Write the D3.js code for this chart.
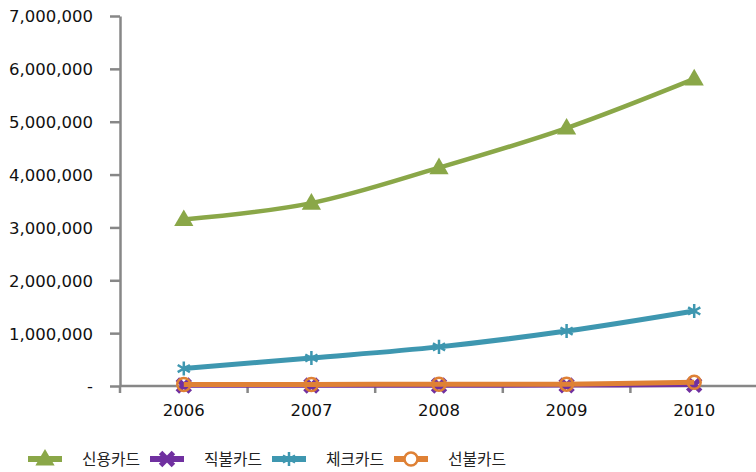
<!DOCTYPE html>
<html>
<head>
<meta charset="utf-8">
<script src="https://cdn.jsdelivr.net/npm/d3@7"></script>
<style>
  body { margin: 0; background: #fff; }
  .axis text { font-family: "DejaVu Sans", sans-serif; font-size: 16.5px; fill: #111; }
  .legend text { font-family: "Noto Sans CJK KR", sans-serif; font-size: 15.8px; fill: #222; }
</style>
</head>
<body>
<div id="chart"></div>
<script>
const years = ['2006', '2007', '2008', '2009', '2010'];
const seriesNames = ['신용카드', '직불카드', '체크카드', '선불카드'];
const credit  = [3150000, 3460000, 4130000, 4880000, 5810000];
const debit   = [8000, 9000, 10000, 12000, 22000];
const check   = [330000, 530000, 740000, 1040000, 1420000];
const prepaid = [30000, 30000, 32000, 35000, 70000];
const yTicks = [0, 1000000, 2000000, 3000000, 4000000, 5000000, 6000000, 7000000];

const svgWidth = 756;
const svgHeight = 472;

// plot area edges
const plot = { left: 120, right: 758, top: 16, bottom: 386 };

const svg = d3.select('#chart').append('svg')
  .attr('width', svgWidth)
  .attr('height', svgHeight);

const x = d3.scaleBand().domain(years).range([plot.left, plot.right]).padding(0);
const y = d3.scaleLinear().domain([0, 7000000]).range([plot.bottom, plot.top]);
const cx = d => x(d) + x.bandwidth() / 2;

//y axis
const yAxis = d3.axisLeft(y)
  .tickValues(yTicks)
  .tickSize(10)
  .tickSizeOuter(0)
  .tickPadding(17)
  .tickFormat(d => d === 0 ? '-' : d3.format(',')(d));
const gy = svg.append('g').attr('class', 'axis')
  .attr('transform', `translate(${plot.left},0)`)
  .call(yAxis);
gy.selectAll('line, path').attr('stroke', '#878787').attr('stroke-width', 2.5);
gy.selectAll('text').attr('dy', '0.36em');

//x axis: labels centred in bands, ticks on band edges
const xAxis = d3.axisBottom(x).tickSize(0).tickPadding(18);
const gx = svg.append('g').attr('class', 'axis')
  .attr('transform', `translate(0,${plot.bottom})`)
  .call(xAxis);
gx.select('.domain').remove();
const edges = years.map(d => x(d)).concat([x(years[years.length - 1]) + x.bandwidth()]);
gx.selectAll('.edge').data(edges).enter().append('line')
  .attr('class', 'edge')
  .attr('x1', d => d).attr('x2', d => d)
  .attr('y1', 0).attr('y2', 7)
  .attr('stroke', '#878787').attr('stroke-width', 2.5);
gx.append('line')
  .attr('x1', plot.left).attr('x2', svgWidth)
  .attr('y1', 0).attr('y2', 0)
  .attr('stroke', '#878787').attr('stroke-width', 2.5);

const line = d3.line()
  .x((d, i) => cx(years[i]))
  .y(d => y(d))
  .curve(d3.curveCatmullRom.alpha(0.5));

const colors = ['#8aa748', '#7030a0', '#3e97b0', '#df8135'];
const widths = [4.5, 4.5, 5, 5];
const allData = [credit, debit, check, prepaid];

// marker drawing helpers
function drawMarker(g, kind, color, px, py, fillBg) {
  if (kind === 0) {
    g.append('path')
      .attr('d', d3.symbol(d3.symbolTriangle, 160)())
      .attr('transform', `translate(${px},${py + 1})`)
      .attr('fill', color);
  } else if (kind === 1) {
    g.append('path')
      .attr('d', d3.symbol(d3.symbolX, 110)())
      .attr('transform', `translate(${px},${py})`)
      .attr('fill', 'none').attr('stroke', color).attr('stroke-width', 5);
  } else if (kind === 2) {
    g.append('path')
      .attr('d', d3.symbol(d3.symbolAsterisk, 140)())
      .attr('transform', `translate(${px},${py})`)
      .attr('fill', 'none').attr('stroke', color).attr('stroke-width', 2.5);
  } else {
    g.append('circle')
      .attr('cx', px).attr('cy', py).attr('r', 6.5)
      .attr('fill', fillBg ? '#fff' : 'none').attr('stroke', color).attr('stroke-width', 2.5);
  }
}

allData.forEach((vals, k) => {
  const g = svg.append('g');
  g.append('path').datum(vals)
    .attr('d', line)
    .attr('fill', 'none')
    .attr('stroke', colors[k])
    .attr('stroke-width', widths[k])
    .attr('stroke-linejoin', 'round');
  vals.forEach((v, i) => drawMarker(g, k, colors[k], cx(years[i]), y(v), false));
});

//legend
const legendX = [28, 150, 272, 394];
const legend = svg.append('g').attr('class', 'legend');
seriesNames.forEach((name, k) => {
  const lx = legendX[k], ly = 459;
  legend.append('line')
    .attr('x1', lx).attr('x2', lx + 34)
    .attr('y1', ly).attr('y2', ly)
    .attr('stroke', colors[k]).attr('stroke-width', 6);
  drawMarker(legend, k, colors[k], lx + 17, ly, true);
  legend.append('text')
    .attr('x', lx + 54).attr('y', ly)
    .attr('dy', '0.36em')
    .text(name);
});
</script>
</body>
</html>
